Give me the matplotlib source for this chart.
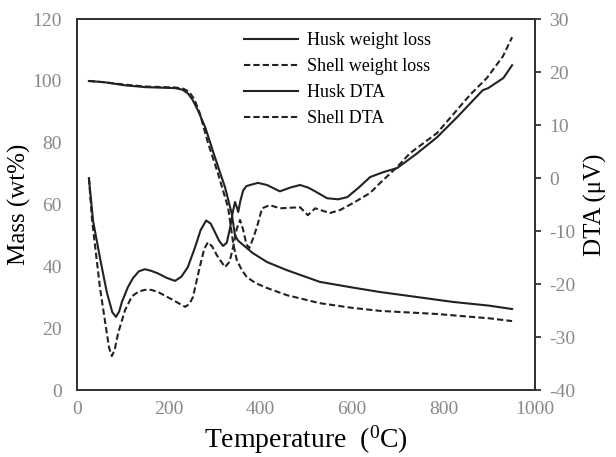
import numpy as np
import matplotlib.pyplot as plt

plt.rcParams['font.family'] = ['Liberation Serif', 'DejaVu Serif']
plt.rcParams['mathtext.fontset'] = 'custom'
plt.rcParams['mathtext.rm'] = 'Liberation Serif'
plt.rcParams['axes.unicode_minus'] = False

# weight loss (left axis, wt%)
husk_wl_t = [26, 60, 105, 150, 214, 230, 242, 252, 264, 280, 301, 323, 338, 345, 352,
             363, 384, 415, 458, 530, 600, 662, 712, 821, 900, 950]
husk_wl = [100, 99.6, 98.6, 98.0, 97.7, 97.2, 96, 94, 90.5, 85, 75.4, 65.7, 57, 50,
           48.3, 46.9, 44.3, 41.4, 38.8, 35, 33.2, 31.7, 30.7, 28.5, 27.3, 26.2]
shell_wl_t = [26, 60, 105, 150, 214, 232, 244, 256, 268, 286, 308, 330, 341, 349, 360,
              371, 390, 415, 458, 530, 600, 662, 786, 900, 950]
shell_wl = [100, 99.6, 98.8, 98.2, 97.9, 97.5, 96.6, 94.2, 89.6, 80, 70, 59, 47.5, 42,
            38.8, 36.5, 34.6, 33, 30.7, 28.1, 26.6, 25.6, 24.6, 23.2, 22.3]

# DTA (right axis, uV)
husk_dta_t = [26, 35, 50, 65, 77, 85, 92, 98, 111, 122, 135, 148, 162, 177, 195, 214,
              228, 242, 258, 270, 282, 292, 300, 310, 319, 327, 334, 340, 345, 349,
              352, 357, 363, 370, 378, 395, 415, 443, 465, 487, 505, 520, 546, 570,
              590, 615, 640, 668, 699, 740, 786, 830, 886, 898, 931, 950]
husk_dta = [0, -8, -15, -21.5, -25.3, -26.2, -25.2, -23.4, -20.6, -18.9, -17.6, -17.2,
            -17.5, -18, -18.8, -19.4, -18.6, -16.8, -13, -9.8, -8, -8.6, -10, -11.8,
            -12.8, -12.2, -9.5, -6.5, -4.5, -5.5, -6.4, -4.2, -2.3, -1.5, -1.3, -0.9,
            -1.3, -2.5, -1.8, -1.3, -1.8, -2.5, -3.8, -4.0, -3.6, -1.8, 0.2, 1.1, 1.9,
            4.5, 7.7, 11.5, 16.6, 17.0, 18.9, 21.3]
shell_dta_t = [26, 33, 50, 65, 70, 76, 82, 90, 105, 120, 135, 148, 162, 177, 205, 236,
               245, 253, 268, 278, 286, 295, 305, 323, 333, 341, 349, 356, 362, 370,
               376, 384, 393, 404, 421, 443, 487, 504, 520, 552, 575, 603, 640, 662,
               699, 727, 786, 858, 895, 930, 950]
shell_dta = [0, -8, -20.6, -29.2, -32, -33.6, -32.5, -29.2, -24.9, -22.3, -21.4, -21.1,
             -21.1, -21.5, -22.8, -24.3, -23.8, -22.5, -16.8, -13.3, -12.1, -12.9,
             -14.5, -16.8, -15.8, -13, -9.5, -7.9, -9.5, -12.5, -13.2, -11.5, -9.2,
             -5.7, -5.1, -5.7, -5.5, -7, -5.7, -6.6, -6.0, -4.7, -2.8, -0.9, 2.1, 4.7,
             8.5, 15.7, 18.9, 23, 26.6]

line_col = '#222222'
tick_col = '#888888'

fig = plt.figure(figsize=(6.16, 4.57), dpi=100)
ax = fig.add_axes([0.125, 0.1466, 0.7435, 0.8114])
ax2 = ax.twinx()

h1, = ax.plot(husk_wl_t, husk_wl, color=line_col, lw=1.5, ls='-')
h2, = ax.plot(shell_wl_t, shell_wl, color=line_col, lw=1.5, ls=(0, (3, 1.5)))
h3, = ax2.plot(husk_dta_t, husk_dta, color=line_col, lw=1.5, ls='-')
h4, = ax2.plot(shell_dta_t, shell_dta, color=line_col, lw=1.5, ls=(0, (3, 1.5)))

ax.set_xlim(0, 1000)
ax.set_ylim(0, 120)
ax2.set_ylim(-40, 30)
ax.set_xticks(np.arange(0, 1001, 200))
ax.set_yticks(np.arange(0, 121, 20))
ax2.set_yticks(np.arange(-40, 31, 10))

ax.tick_params(axis='both', length=0, labelsize=14, labelcolor=tick_col, pad=8)
ax.tick_params(axis='y', pad=11)
ax2.tick_params(axis='y', length=4, width=1.2, color=line_col, labelsize=14,
                labelcolor=tick_col, pad=6)

for a in (ax, ax2):
    for s in a.spines.values():
        s.set_color('#333333')
        s.set_linewidth(1.3)

ax.set_xlabel(r'Temperature  ($\mathregular{^0}$C)', fontsize=20, labelpad=4)
ax.set_ylabel('Mass (wt%)', fontsize=18, labelpad=1)
ax2.set_ylabel('DTA (\u03bcV)', fontsize=18, labelpad=6)

ax.legend([h1, h2, h3, h4],
          ['Husk weight loss', 'Shell weight loss', 'Husk DTA', 'Shell DTA'],
          loc='upper left', bbox_to_anchor=(0.34, 0.995), frameon=False,
          fontsize=13, handlelength=3.0, handletextpad=0.5, labelspacing=0.5,
          borderaxespad=0.2)

fig.savefig('out.png', dpi=100)
